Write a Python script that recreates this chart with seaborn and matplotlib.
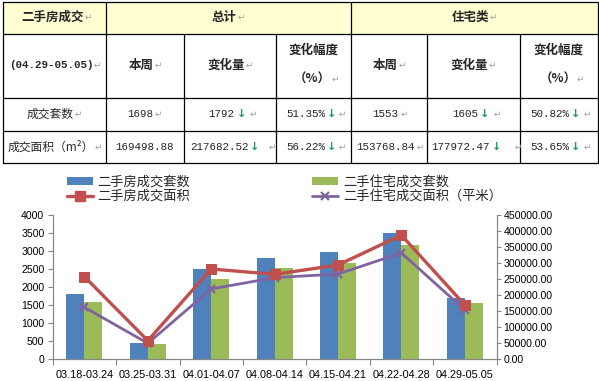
import numpy as np
import pandas as pd
import matplotlib
matplotlib.use("Agg")
import matplotlib.pyplot as plt
import seaborn as sns
from matplotlib.patches import Patch, Rectangle
from matplotlib.lines import Line2D
from matplotlib.ticker import FixedLocator, FormatStrFormatter

# ---------------- data ----------------
weeks = ['03.18-03.24', '03.25-03.31', '04.01-04.07', '04.08-04.14',
         '04.15-04.21', '04.22-04.28', '04.29-05.05']
all_units = [1810, 450, 2505, 2808, 2965, 3490, 1698]           # 二手房成交套数
res_units = [1589, 425, 2226, 2531, 2670, 3158, 1553]           # 二手住宅成交套数
all_area = [257700, 58200, 281600, 265000, 294000, 387181.40, 169498.88]   # 二手房成交面积
res_area = [162100, 49900, 219300, 254600, 266000, 331741.31, 153768.84]   # 二手住宅成交面积（平米）
series_names = ['二手房成交套数', '二手住宅成交套数', '二手房成交面积', '二手住宅成交面积（平米）']

left_ticks = [0, 500, 1000, 1500, 2000, 2500, 3000, 3500, 4000]
right_ticks = [0, 50000, 100000, 150000, 200000, 250000, 300000, 350000, 400000, 450000]

# table
tbl_title = ['二手房成交', '(04.29-05.05)']
tbl_groups = ['总计', '住宅类']
tbl_sub = ['本周', '变化量', '变化幅度', '（%）']
row_labels = ['成交套数', '成交面积（m²）']
total_week = ['1698', '169498.88']
total_change = ['1792', '217682.52']
total_pct = ['51.35%', '56.22%']
res_week = ['1553', '153768.84']
res_change = ['1605', '177972.47']
res_pct = ['50.82%', '53.65%']

# ---------------- style ----------------
BLUE, GREEN, RED, PURPLE = '#4F81BD', '#9BBB59', '#C0504D', '#8064A2'
sns.set_theme(style='white')
plt.rcParams['font.family'] = ['Liberation Sans', 'Noto Sans CJK SC', 'DejaVu Sans']
CJK = ['Noto Sans CJK SC', 'DejaVu Sans']

fig = plt.figure(figsize=(5.99, 3.81), dpi=100)
fig.patch.set_facecolor('white')

# ---------------- table (pixel coordinates) ----------------
tab = fig.add_axes([0, 0, 1, 1])
tab.set_xlim(0, 599)
tab.set_ylim(381, 0)
tab.axis('off')

xs = [3.3, 106, 184, 276, 351, 427, 520, 597.5]
ys = [1.7, 34, 97.5, 130.5, 163]
tab.add_patch(Rectangle((xs[0], ys[0]), xs[-1] - xs[0], ys[1] - ys[0],
                        facecolor='#FFFFD2', edgecolor='none', zorder=0))
lw = 0.9
for y in ys:
    tab.plot([xs[0], xs[-1]], [y, y], color='black', lw=lw, zorder=2)
for i, x in enumerate(xs):
    y0 = ys[0] if i in (0, 1, 4, 7) else ys[1]
    tab.plot([x, x], [y0, ys[-1]], color='black', lw=lw, zorder=2)

renderer = fig.canvas.get_renderer()
F_HEAD = dict(family=CJK, weight='bold', size=9)
F_LAB = dict(family=CJK, size=8.5)
F_NUM = dict(family='Liberation Mono', size=7.8)
F_NUMB = dict(family='Liberation Mono', size=7.8, weight='bold')
F_ARR = dict(family='DejaVu Sans', weight='bold', size=8, color='#17A052')
F_RET = dict(family='DejaVu Sans', size=6.5, color='#A0A0A0')


def group(xc, y, parts):
    """parts: list of (text, fontkw, gap_after_px); laid out left to right, centred at xc"""
    objs = []
    total = 0
    for s, kw, gap in parts:
        t = tab.text(0, y, s, va='center', ha='left', zorder=3, **kw)
        w = t.get_window_extent(renderer=renderer).width
        objs.append((t, w, gap))
        total += w + gap
    x = xc - total / 2
    for t, w, gap in objs:
        t.set_x(x)
        x += w + gap


RET = ('↵', F_RET, 0)

def cc(i):
    return (xs[i] + xs[i + 1]) / 2

# header row
group(cc(0) + 2, 17.5, [(tbl_title[0], F_HEAD, 1), RET])
group((xs[1] + xs[4]) / 2, 17.5, [(tbl_groups[0], F_HEAD, 1), RET])
group((xs[4] + xs[7]) / 2, 17.5, [(tbl_groups[1], F_HEAD, 1), RET])
# second row
group(cc(0), 65.5, [(tbl_title[1], F_NUMB, 0), RET])
for base in (1, 4):
    group(cc(base), 65.5, [(tbl_sub[0], F_HEAD, 1), RET])
    group(cc(base + 1), 65.5, [(tbl_sub[1], F_HEAD, 1), RET])
    group(cc(base + 2), 50.5, [(tbl_sub[2], F_HEAD, 0)])
    group(cc(base + 2) + 3, 79.5, [(tbl_sub[3], F_HEAD, 0.5), RET])
# data rows
row_y = [114, 147]
for r in range(2):
    y = row_y[r]
    group(cc(0), y, [(row_labels[r], F_LAB, 1), RET])
    group(cc(1), y, [(total_week[r], F_NUM, 1)] + ([RET] if r == 0 else []))
    group(cc(2) + 3, y, [(total_change[r], F_NUM, 2), ('↓', F_ARR, 4 if r == 0 else 9), RET])
    group(cc(3) + 3, y, [(total_pct[r], F_NUM, 1), ('↓', F_ARR, 3), RET])
    group(cc(4) + 1, y, [(res_week[r], F_NUM, 2), RET])
    group(cc(5) + 3, y, [(res_change[r], F_NUM, 2), ('↓', F_ARR, 4 if r == 0 else 13), RET])
    group(cc(6) + 2, y, [(res_pct[r], F_NUM, 1), ('↓', F_ARR, 3), RET])

# ---------------- chart ----------------
L, R, T, B = 52.7, 496.5, 215.0, 359.3
ax = fig.add_axes([L / 599, (381 - B) / 381, (R - L) / 599, (B - T) / 381])

df = pd.DataFrame({
    'week': weeks * 2,
    'value': all_units + res_units,
    'series': [series_names[0]] * len(weeks) + [series_names[1]] * len(weeks),
})
sns.barplot(data=df, x='week', y='value', hue='series', palette=[BLUE, GREEN],
            width=0.57, saturation=1, legend=False, ax=ax, zorder=2,
            linewidth=0, edgecolor='none')

ax2 = ax.twinx()
xpos = np.arange(len(weeks))
sns.lineplot(x=xpos, y=res_area, ax=ax2, color=PURPLE, linewidth=2.0,
             marker='x', markersize=6, markeredgewidth=1.6, markeredgecolor=PURPLE)
sns.lineplot(x=xpos, y=all_area, ax=ax2, color=RED, linewidth=2.4,
             marker='s', markersize=7.5, markeredgecolor=RED)

for a in (ax, ax2):
    a.set_xlim(-0.5, len(weeks) - 0.5)
    a.set_xlabel('')
    a.set_ylabel('')
    a.spines['top'].set_visible(False)
    for s in ('left', 'right', 'bottom'):
        a.spines[s].set_color('#868686')
        a.spines[s].set_linewidth(0.8)
    a.patch.set_alpha(0)
ax.set_ylim(0, 4000)
ax.set_yticks(left_ticks)
ax2.set_ylim(0, 450000)
ax2.set_yticks(right_ticks)
ax2.yaxis.set_major_formatter(FormatStrFormatter('%.2f'))

ax.set_xticks(xpos)
ax.set_xticklabels(weeks)
ax.xaxis.set_minor_locator(FixedLocator(np.arange(len(weeks) + 1) - 0.5))
ax.tick_params(axis='x', which='major', length=0, pad=8, labelsize=7.8, colors='black')
ax.tick_params(axis='x', which='minor', bottom=True, length=4.5, width=0.8, color='#868686', direction='out')
ax.tick_params(axis='y', left=True, length=3.5, width=0.8, color='#868686', direction='out',
               labelsize=7.6, pad=2.5, labelcolor='black')
ax2.tick_params(axis='y', right=True, length=3, width=0.8, color='#868686', direction='out',
                labelsize=7.6, pad=2, labelcolor='black')
ax2.tick_params(axis='x', which='both', bottom=False, labelbottom=False)

handles = [
    Patch(facecolor=BLUE, edgecolor='none'),
    Line2D([], [], color=RED, lw=2.4, marker='s', markersize=7.5),
    Patch(facecolor=GREEN, edgecolor='none'),
    Line2D([], [], color=PURPLE, lw=2.0, marker='x', markersize=6, markeredgewidth=1.6),
]
labels = [series_names[0], series_names[2], series_names[1], series_names[3]]
fig.legend(handles, labels, ncol=2, loc='upper left',
           bbox_to_anchor=(66.7 / 599, 1 - 175.5 / 381),
           frameon=False, prop=dict(family=CJK, size=9.5),
           handlelength=2.0, handleheight=0.6, handletextpad=0.35,
           columnspacing=9.2, labelspacing=0.12, borderpad=0, borderaxespad=0)

fig.savefig('out.png', dpi=100)
